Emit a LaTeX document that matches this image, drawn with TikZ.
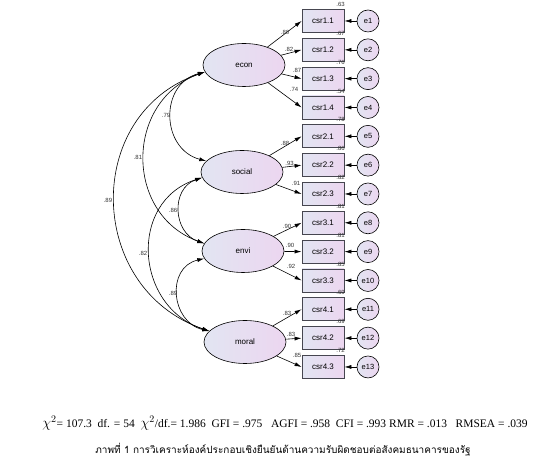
\documentclass[tikz,border=0pt]{standalone}
\usepackage{fontspec}
\setmainfont{Liberation Serif}
\newfontfamily\amosfont{Liberation Sans}
\newfontfamily\thaifont[Script=Thai]{Loma}
\usetikzlibrary{arrows.meta,shapes.geometric}
\definecolor{fillL}{RGB}{226,229,242}
\definecolor{fillR}{RGB}{236,214,240}
\definecolor{rimgray}{RGB}{70,70,80}
\tikzset{
  latent/.style={ellipse, draw=black, line width=0.6pt, left color=fillL, right color=fillR,
    minimum width=82pt, minimum height=43pt, inner sep=0pt, font=\amosfont\fontsize{8}{9}\selectfont},
  obsbox/.style={rectangle, draw=rimgray, line width=0.8pt, left color=fillL, right color=fillR,
    minimum width=42pt, minimum height=23pt, inner sep=0pt, font=\amosfont\fontsize{8}{9}\selectfont},
  errc/.style={circle, draw=black, line width=0.6pt, left color=fillL, right color=fillR,
    minimum size=22pt, inner sep=0pt, font=\amosfont\fontsize{7.5}{9}\selectfont},
  arr/.style={-{Latex[length=7pt,width=4pt]}, line width=0.6pt},
  cov/.style={{Latex[length=7pt,width=4pt]}-{Latex[length=7pt,width=4pt]}, line width=0.6pt},
  coef/.style={font=\amosfont\fontsize{6}{7}\selectfont, inner sep=0pt, text=black!80},
}
\begin{document}
\begin{tikzpicture}[x=1pt,y=1pt]
  \useasboundingbox (0,0) rectangle (556,473);
  % latent factors
  \node[latent] (econ) at (244,408) {econ};
  \node[latent] (social) at (242,301) {social};
  \node[latent] (envi) at (243,222) {envi};
  \node[latent] (moral) at (245,131) {moral};
  % indicators, errors and squared multiple correlations
  \foreach \n/\lab/\rsq in {1/csr1.1/.63,2/csr1.2/.67,3/csr1.3/.76,4/csr1.4/.54,
      5/csr2.1/.78,6/csr2.2/.86,7/csr2.3/.82,8/csr3.1/.81,9/csr3.2/.81,
      10/csr3.3/.85,11/csr4.1/.69,12/csr4.2/.69,13/csr4.3/.72}{
    \pgfmathsetmacro{\yy}{452-28.83*(\n-1)}
    \node[obsbox] (b\n) at (323,\yy) {\lab};
    \node[errc] (e\n) at (368,\yy) {e\n};
    \node[coef, anchor=base east] (r\n) at ([shift={(0.5,2.5)}]b\n.north east) {\rsq};
    \draw[arr] (e\n) -- (b\n);
  }
  % factor loadings
  \foreach \lv/\n/\val/\lx/\ly in {econ/1/.80/285/441, econ/2/.82/289/424,
      econ/3/.87/297/403, econ/4/.74/294/384, social/5/.88/285/330,
      social/6/.93/289.5/310, social/7/.91/296/290, envi/8/.90/287/247,
      envi/9/.90/290/228, envi/10/.92/291/207, moral/11/.83/287/160,
      moral/12/.83/291/139, moral/13/.85/297/118}{
    \draw[arr] (\lv) -- (b\n.west);
    \node[coef] (l\n) at (\lx,\ly) {\val};
  }
  % correlations between factors
  \draw[cov] (econ.190) to[out=195,in=165,looseness=1.35] (social.163);
  \draw[cov] (econ.190) to[out=200,in=160,looseness=1.27] (envi.169);
  \draw[cov] (econ.190) to[out=199,in=161,looseness=1.28] (moral.163);
  \draw[cov] (social.188) to[out=199,in=161,looseness=1.29] (envi.169);
  \draw[cov] (social.188) to[out=198,in=162,looseness=1.30] (moral.163);
  \draw[cov] (envi.191) to[out=193,in=167,looseness=1.39] (moral.163);
  \node[coef] (c1) at (166,358) {.79};
  \node[coef] (c2) at (138,316) {.81};
  \node[coef] (c3) at (108,273) {.89};
  \node[coef] (c4) at (173,263) {.86};
  \node[coef] (c5) at (143,220) {.82};
  \node[coef] (c6) at (173,180) {.89};
  % fit indices and caption
  \node[font=\fontsize{11.5}{13}\selectfont, inner sep=0pt] (fit) at (285,50)
    {{\fontsize{14}{14}\selectfont$\chi^{2}$}= 107.3~~df. = 54~~{\fontsize{14}{14}\selectfont$\chi^{2}$}/df.= 1.986~~GFI = .975~~~AGFI = .958~~CFI = .993 RMR = .013~~~RMSEA = .039};
  \node[font=\thaifont\fontsize{10}{12}\selectfont, inner sep=0pt] (cap) at (283,23)
    {ภาพที่ 1 การวิเคราะห์องค์ประกอบเชิงยืนยันด้านความรับผิดชอบต่อสังคมธนาคารของรัฐ};
\end{tikzpicture}
\end{document}
